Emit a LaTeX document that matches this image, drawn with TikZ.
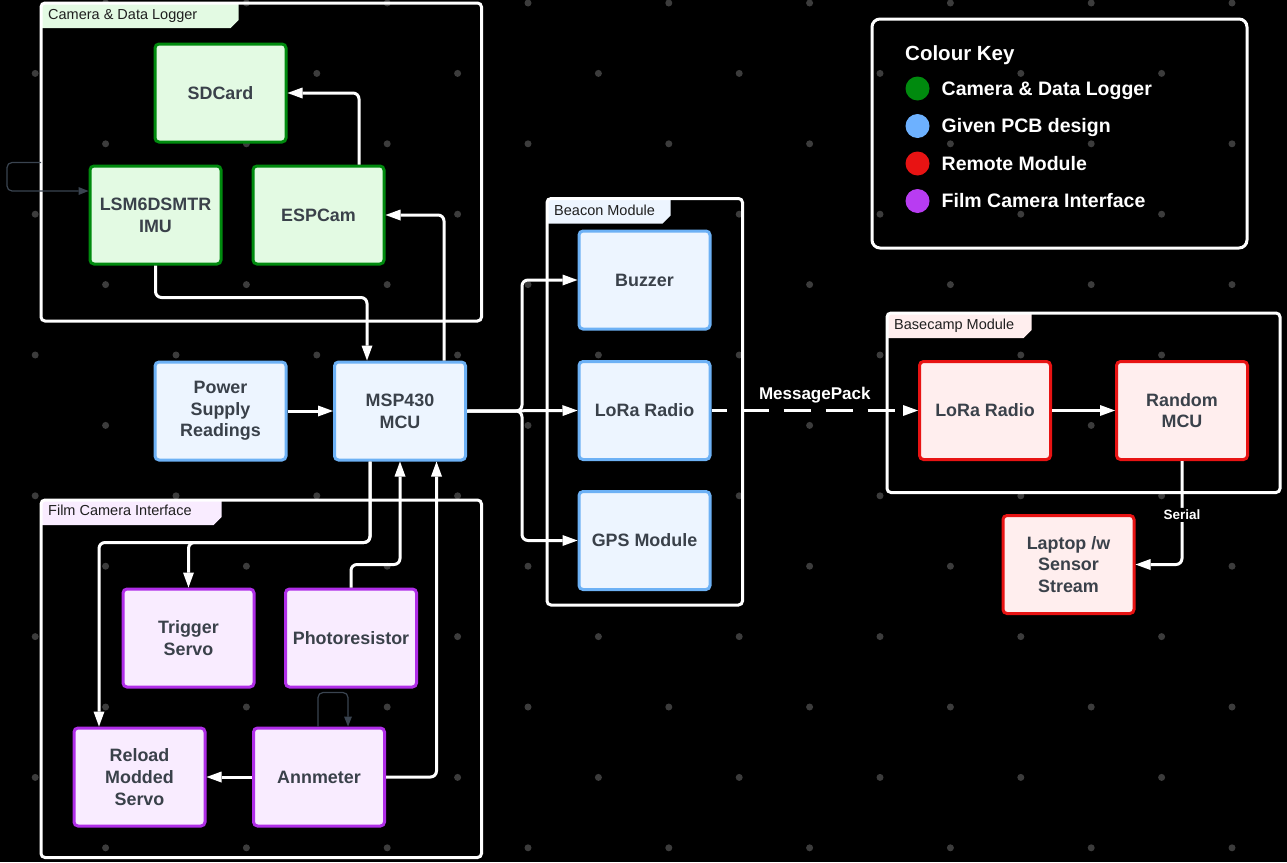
\documentclass[tikz,border=0pt]{standalone}
\usepackage{fontspec}
\setmainfont{Liberation Sans}
\usetikzlibrary{arrows.meta}
\definecolor{txt}{HTML}{3A414A}
\definecolor{tabtxt}{HTML}{1F1F1F}
\definecolor{dotc}{HTML}{3C3C3C}
\definecolor{dk}{HTML}{3A4450}
\definecolor{gF}{HTML}{E3FAE3}
\definecolor{gD}{HTML}{008A0E}
\definecolor{bF}{HTML}{EDF5FF}
\definecolor{bD}{HTML}{6DB1F5}
\definecolor{bC}{HTML}{6DB1FF}
\definecolor{rF}{HTML}{FFEEEE}
\definecolor{rD}{HTML}{E81313}
\definecolor{pF}{HTML}{F9ECFF}
\definecolor{pD}{HTML}{B02EE8}
\definecolor{pC}{HTML}{B83CF2}
\tikzset{
  box/.style={draw, line width=3pt, rounded corners=4pt, minimum width=131pt, minimum height=98pt,
    inner sep=0pt, align=center, text=txt, font=\fontsize{17.9}{21.7}\selectfont\bfseries},
  gbox/.style={box, fill=gF, draw=gD},
  bbox/.style={box, fill=bF, draw=bD},
  rbox/.style={box, fill=rF, draw=rD},
  pbox/.style={box, fill=pF, draw=pD},
  grpframe/.style={draw=white, line width=3pt, rounded corners=4pt},
  conn/.style={draw=white, line width=3pt, rounded corners=6pt,
    -{Triangle[length=15pt,width=11pt,line width=0pt]}},
  dkconn/.style={draw=dk, line width=1.2pt, rounded corners=5pt,
    -{Triangle[length=10pt,width=8pt,line width=0pt]}},
  tablabel/.style={anchor=base west, inner sep=0pt, text=tabtxt, font=\fontsize{14.5}{17}\selectfont},
  legtext/.style={anchor=base west, inner sep=0pt, text=white, font=\fontsize{19.5}{23}\selectfont\bfseries},
  legdot/.style={circle, minimum size=24pt, inner sep=0pt},
}
\begin{document}
\begin{tikzpicture}[x=1pt,y=-1pt]
\fill[black] (0,0) rectangle (1287,862);
\useasboundingbox (0,0) rectangle (1287,862);
% dot grid
\foreach \i in {0,...,17}{
  \foreach \j in {0,...,12}{
    \pgfmathtruncatemacro\dd{mod(\i+\j,2)}
    \ifnum\dd=1 \fill[dotc] (35.2+70.4*\i, 3+70.4*\j) circle[radius=3.5pt]; \fi
  }
}
% group frames with tabs
\fill[gF] (41,3) -- (238.5,3) -- (238.5,20) -- (230.5,28) -- (41,28) -- cycle;
\draw[grpframe] (41,3) rectangle (481.5,321);
\node[tablabel] (tcam) at (48,19.5) {Camera \& Data Logger};

\fill[pF] (41,500) -- (221.5,500) -- (221.5,517) -- (213.5,525) -- (41,525) -- cycle;
\draw[grpframe] (41,500) rectangle (481.5,857.5);
\node[tablabel] (tfilm) at (48,515.5) {Film Camera Interface};

\fill[bF] (547,198.5) -- (670.5,198.5) -- (670.5,215.5) -- (662.5,223.5) -- (547,223.5) -- cycle;
\draw[grpframe] (547,198.5) rectangle (742.5,605);
\node[tablabel] (tbeac) at (554,215) {Beacon Module};

\fill[rF] (887,313) -- (1031.5,313) -- (1031.5,330) -- (1023.5,338) -- (887,338) -- cycle;
\draw[grpframe] (887,313) rectangle (1280,492.5);
\node[tablabel] (tbase) at (894,329) {Basecamp Module};

% legend
\node[draw=white, line width=3pt, rounded corners=8pt, minimum width=375pt, minimum height=229pt, inner sep=0pt] (key) at (1059.5,133.5) {};
\node[anchor=base west, inner sep=0pt, text=white, font=\fontsize{20.5}{24}\selectfont\bfseries] (keyt) at (905,60) {Colour Key};
\node[legdot, fill=gD] (c1) at (917.5,88.5) {};
\node[legdot, fill=bC] (c2) at (917.5,126) {};
\node[legdot, fill=rD] (c3) at (917.5,163.5) {};
\node[legdot, fill=pC] (c4) at (917.5,201) {};
\node[legtext] (k1) at (941.5,95) {Camera \& Data Logger};
\node[legtext] (k2) at (941.5,132.5) {Given PCB design};
\node[legtext] (k3) at (941.5,170) {Remote Module};
\node[legtext] (k4) at (941.5,207.5) {Film Camera Interface};

% boxes
\node[gbox] (sd) at (220.5,93) {SDCard};
\node[gbox] (imu) at (155.5,215) {LSM6DSMTR\\IMU};
\node[gbox] (esp) at (318.5,215) {ESPCam};
\node[bbox] (psr) at (220.5,411) {Power\\Supply\\Readings};
\node[bbox] (msp) at (400,411) {MSP430\\MCU};
\node[bbox] (buz) at (644.5,280) {Buzzer};
\node[bbox] (lora1) at (644.5,410.5) {LoRa Radio};
\node[bbox] (gps) at (644.5,540.5) {GPS Module};
\node[rbox] (lora2) at (985,410.5) {LoRa Radio};
\node[rbox] (rmcu) at (1182,410.5) {Random\\MCU};
\node[rbox] (lap) at (1068.5,564.5) {Laptop /w\\Sensor\\Stream};
\node[pbox] (trig) at (188.5,638) {Trigger\\Servo};
\node[pbox] (photo) at (351,638) {Photoresistor};
\node[pbox] (reload) at (139.5,777) {Reload\\Modded\\Servo};
\node[pbox] (amm) at (319,777) {Annmeter};

% connectors
\draw[conn] ([xshift=40.5pt]esp.north) |- (sd.east);
\draw[conn] ([xshift=44pt]msp.north) |- (esp.east);
\draw[conn] (imu.south) -- ++(0,32) -| ([xshift=-33pt]msp.north);
\draw[conn] (psr.east) -- (msp.west);
\draw[conn] (msp.east) -- ++(55,0) |- (buz.west);
\draw[conn] (msp.east) -- (lora1.west);
\draw[conn] (msp.east) -- ++(55,0) |- (gps.west);
\draw[conn, dash pattern=on 27pt off 15pt, dash phase=12pt] (lora1.east) -- (lora2.west)
  node[midway, above=6pt, inner sep=0pt, text=white, font=\fontsize{17}{20}\selectfont\bfseries] (mp) {MessagePack};
\draw[conn] (lora2.east) -- (rmcu.west);
\draw[conn] (rmcu.south) |- (lap.east)
  node[pos=0.26, fill=black, inner sep=2pt, text=white, font=\fontsize{13.5}{16}\selectfont\bfseries] (ser) {Serial};
\draw[conn] ([xshift=-30pt]msp.south) -- ++(0,81) -| (trig.north);
\draw[conn] ([xshift=-30pt]msp.south) -- ++(0,81) -| ([xshift=-40.5pt]reload.north);
\draw[conn] (photo.north) -- ++(0,-23) -| (msp.south);
\draw[conn] (amm.east) -| ([xshift=36.5pt]msp.south);
\draw[conn] (amm.west) -- (reload.east);
% thin dark loops
\coordinate (lp) at (41,162.5);
\draw[dkconn] (lp) -- (7,162.5) |- ([yshift=24pt]imu.west);
\draw[dkconn] ([xshift=-1pt]amm.north) -- ++(0,-34) -| ([xshift=29pt]amm.north);
\end{tikzpicture}
\end{document}
